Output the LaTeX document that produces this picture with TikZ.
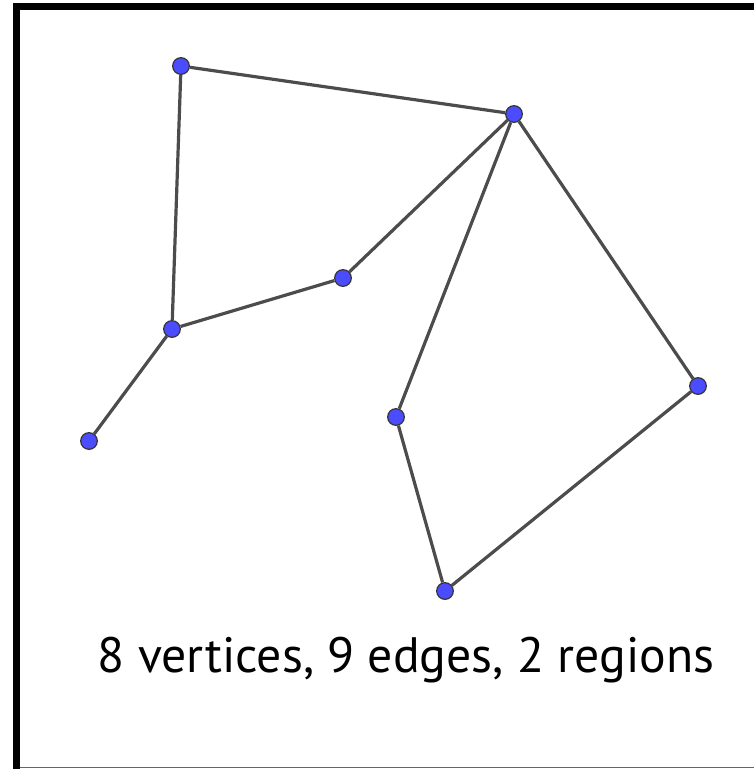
\documentclass[tikz,border=0pt]{standalone}
\usepackage{fontspec}
\setmainfont{PT Sans}
\usetikzlibrary{positioning}

\begin{document}
\begin{tikzpicture}[
  x=0.75pt, y=-0.75pt,
  vtx/.style={circle, draw=black!80, line width=0.9pt, fill=blue!70!white, inner sep=0pt, minimum size=12.5pt},
  edge/.style={line width=2.4pt, draw=black!70},
  caption/.style={font=\fontsize{37.3}{43}\selectfont, text=black}
]
  \useasboundingbox (0,0) rectangle (754,769);

  % Frame
  \fill[black] (13,3) rectangle (754,10);
  \fill[black] (13,3) rectangle (20,769);
  \draw[black!60, line width=1.2pt] (20,767.5) -- (754,767.5);

  % Vertices
  \node[vtx] (a) at (181,66) {};
  \node[vtx] (b) at (514,114) {};
  \node[vtx] (c) at (343,278) {};
  \node[vtx] (d) at (172,329) {};
  \node[vtx] (e) at (89,441) {};
  \node[vtx] (f) at (396,417) {};
  \node[vtx] (g) at (698,386) {};
  \node[vtx] (h) at (445,591) {};

  % Edges
  \draw[edge] (a) -- (b);
  \draw[edge] (a) -- (d);
  \draw[edge] (b) -- (c);
  \draw[edge] (c) -- (d);
  \draw[edge] (d) -- (e);
  \draw[edge] (b) -- (f);
  \draw[edge] (b) -- (g);
  \draw[edge] (f) -- (h);
  \draw[edge] (h) -- (g);

  % Caption
  \node[caption] (count) at (406,660) {8 vertices, 9 edges, 2 regions};
\end{tikzpicture}
\end{document}
